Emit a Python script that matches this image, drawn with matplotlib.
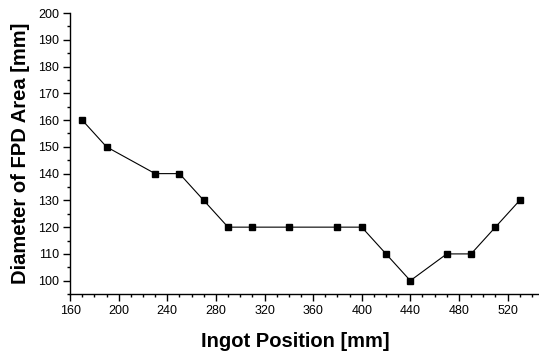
import matplotlib
matplotlib.use("Agg")
import matplotlib.pyplot as plt
from matplotlib.ticker import MultipleLocator

positions = [170, 190, 230, 250, 270, 290, 310, 340, 380, 400, 420, 440, 470, 490, 510, 530]
diameters = [160, 150, 140, 140, 130, 120, 120, 120, 120, 120, 110, 100, 110, 110, 120, 130]

plt.rcParams['font.family'] = ['Liberation Sans', 'DejaVu Sans']

fig = plt.figure(figsize=(5.39, 3.53), dpi=100)
ax = fig.add_axes([0.130, 0.167, 0.868, 0.796])
ax.plot(positions, diameters, color='black', linewidth=0.8, marker='s', markersize=5,
        markerfacecolor='black', markeredgecolor='black')

ax.set_xlim(160, 545)
ax.set_ylim(95, 200)
ax.xaxis.set_major_locator(MultipleLocator(40))
ax.xaxis.set_minor_locator(MultipleLocator(10))
ax.yaxis.set_major_locator(MultipleLocator(10))
ax.yaxis.set_minor_locator(MultipleLocator(5))
ax.spines['top'].set_visible(False)
ax.spines['right'].set_visible(False)
for s in ('left', 'bottom'):
    ax.spines[s].set_linewidth(1.0)
ax.tick_params(which='major', direction='out', length=5, width=1, labelsize=9, pad=3)
ax.tick_params(which='minor', direction='out', length=2.5, width=1)

ax.set_xlabel('Ingot Position [mm]', fontsize=14.5, fontweight='bold', labelpad=7)
ax.set_ylabel('Diameter of FPD Area [mm]', fontsize=14.5, fontweight='bold', labelpad=6)
ax.xaxis.set_label_coords(0.482, -0.135)

fig.savefig('out.png', dpi=100)
